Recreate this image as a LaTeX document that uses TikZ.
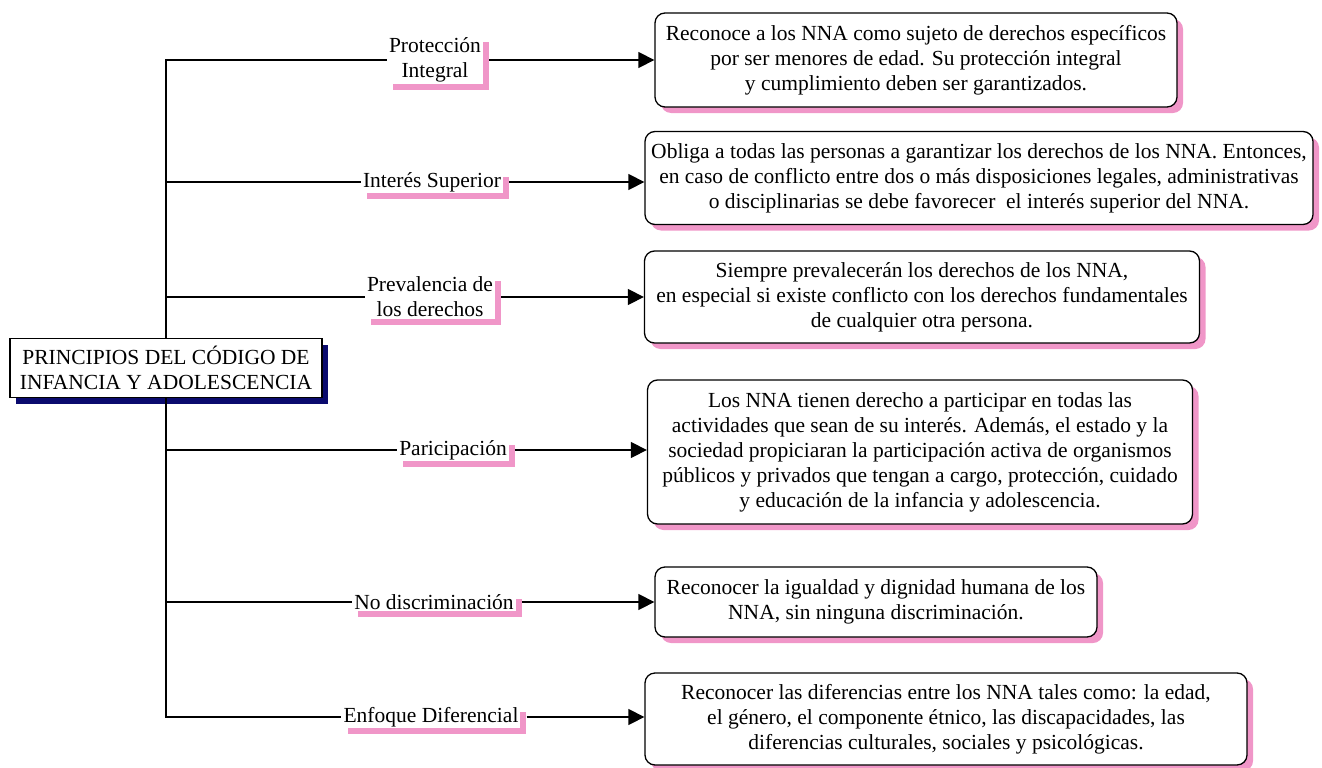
\documentclass[tikz,border=0pt]{standalone}
\usepackage{fontspec}
\setmainfont{Liberation Serif}
\usetikzlibrary{shadows,arrows.meta}
\definecolor{pinksh}{RGB}{240,150,200}
\definecolor{navysh}{RGB}{10,10,110}
\begin{document}
\begin{tikzpicture}[x=1pt,y=-1pt,
  every node/.style={font=\fontsize{21.5}{25}\selectfont, align=center},
  lbl/.style={fill=white, inner xsep=2pt, inner ysep=1.5pt,
    drop shadow={shadow xshift=6pt, shadow yshift=-6pt, fill=pinksh, opacity=1}},
  infobox/.style={draw, line width=1.3pt, rounded corners=10pt, fill=white, inner sep=0pt,
    drop shadow={shadow xshift=6pt, shadow yshift=-6pt, fill=pinksh, opacity=1}},
  rootbox/.style={draw, line width=1.3pt, fill=white, inner sep=0pt,
    minimum width=312pt, minimum height=59pt,
    drop shadow={shadow xshift=6pt, shadow yshift=-6pt, fill=navysh, opacity=1}},
  conn/.style={line width=1.3pt},
  arr/.style={line width=1.3pt, -{Triangle[length=16pt,width=16pt]}}
]
\useasboundingbox (0,0) rectangle (1322,768);

% root
\node[rootbox] (root) at (166,368) {PRINCIPIOS DEL CÓDIGO DE\\INFANCIA Y ADOLESCENCIA};

% info boxes
\node[infobox, minimum width=522pt, minimum height=94pt] (b1) at (916,60)
  {Reconoce a los NNA como sujeto de derechos específicos\\por ser menores de edad. Su protección integral\\y cumplimiento deben ser garantizados.};
\node[infobox, minimum width=668pt, minimum height=93pt] (b2) at (979,178)
  {Obliga a todas las personas a garantizar los derechos de los NNA. Entonces,\\en caso de conflicto entre dos o más disposiciones legales, administrativas\\o disciplinarias se debe favorecer\ \ el interés superior del NNA.};
\node[infobox, minimum width=555pt, minimum height=92pt] (b3) at (922,297)
  {Siempre prevalecerán los derechos de los NNA,\\en especial si existe conflicto con los derechos fundamentales\\de cualquier otra persona.};
\node[infobox, minimum width=545pt, minimum height=144pt] (b4) at (920,452)
  {Los NNA tienen derecho a participar en todas las\\actividades que sean de su interés. Además, el estado y la\\sociedad propiciaran la participación activa de organismos\\públicos y privados que tengan a cargo, protección, cuidado\\y educación de la infancia y adolescencia.};
\node[infobox, minimum width=442pt, minimum height=70pt] (b5) at (876,602)
  {Reconocer la igualdad y dignidad humana de los\\NNA, sin ninguna discriminación.};
\node[infobox, minimum width=602pt, minimum height=92pt] (b6) at (946,719)
  {Reconocer las diferencias entre los NNA tales como: la edad,\\el género, el componente étnico, las discapacidades, las\\diferencias culturales, sociales y psicológicas.};

% labels
\node[lbl] (l1) at (435,60) {Protección\\Integral};
\node[lbl] (l2) at (432,182) {Interés Superior};
\node[lbl] (l3) at (430,297) {Prevalencia de\\los derechos};
\node[lbl] (l4) at (453,450) {Paricipación};
\node[lbl] (l5) at (434,602) {No discriminación};
\node[lbl] (l6) at (431,717) {Enfoque Diferencial};

% trunk and branches
\draw[conn] (root.north) |- (l1.west);
\draw[conn] (root.north) |- (l2.west);
\draw[conn] (root.north) |- (l3.west);
\draw[conn] (root.south) |- (l4.west);
\draw[conn] (root.south) |- (l5.west);
\draw[conn] (root.south) |- (l6.west);

% arrows
\draw[arr] ([xshift=6pt]l1.east) -- (l1.east -| b1.west);
\draw[arr] ([xshift=6pt]l2.east) -- (l2.east -| b2.west);
\draw[arr] ([xshift=6pt]l3.east) -- (l3.east -| b3.west);
\draw[arr] ([xshift=6pt]l4.east) -- (l4.east -| b4.west);
\draw[arr] ([xshift=6pt]l5.east) -- (l5.east -| b5.west);
\draw[arr] ([xshift=6pt]l6.east) -- (l6.east -| b6.west);
\end{tikzpicture}
\end{document}
